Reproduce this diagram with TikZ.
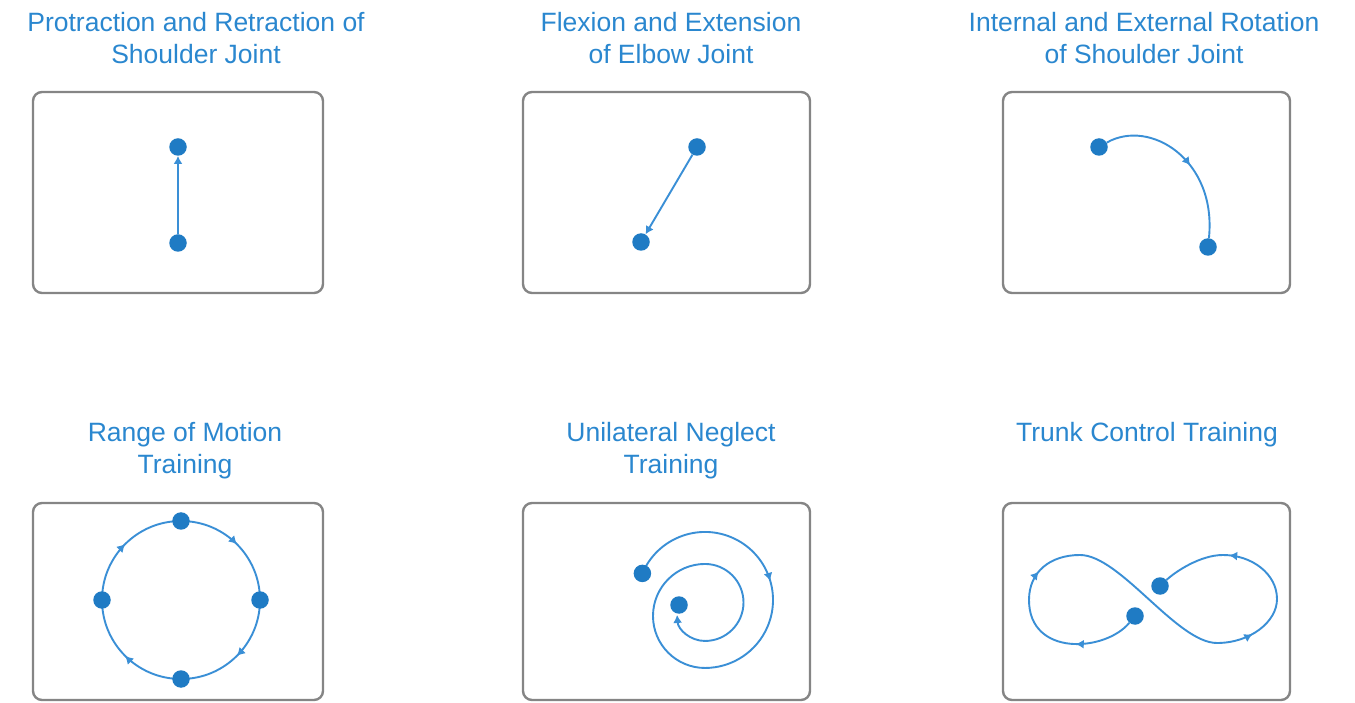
\documentclass[tikz,border=0pt]{standalone}
\usepackage{fontspec}
\setmainfont{Liberation Sans}
\usetikzlibrary{arrows.meta,decorations.markings}
\definecolor{dotblue}{HTML}{1F7BC4}
\definecolor{lineblue}{HTML}{3A8FD6}
\definecolor{titleblue}{HTML}{2A87CF}
\definecolor{boxgray}{HTML}{858585}
\pgfdeclarelayer{bg}
\pgfsetlayers{bg,main}
\tikzset{
  panel/.style={draw=boxgray, line width=2.4pt, rounded corners=9pt, fill=white},
  jdot/.style={circle, fill=dotblue, inner sep=0pt, minimum size=17.5pt},
  pathline/.style={draw=lineblue, color=lineblue, line width=1.9pt},
  endtip/.style={-{Latex[length=8pt,width=9pt]}},
  midmark/.style={postaction={decorate}, decoration={markings, mark=at position #1 with {\arrow[color=lineblue]{Latex[length=8pt,width=9pt]}}}},
  title/.style={text=titleblue, font=\fontsize{26.5}{32}\selectfont, align=center, anchor=base, inner sep=0pt},
}
\begin{document}
\begin{tikzpicture}[x=1pt,y=1pt]
\useasboundingbox (0,0) rectangle (1355,702);

% titles (anchor at baseline of the last line)
\node[title] (t1) at (196,638.7) {Protraction and Retraction of\\Shoulder Joint};
\node[title] (t2) at (671,638.7) {Flexion and Extension\\of Elbow Joint};
\node[title] (t3) at (1144,638.7) {Internal and External Rotation\\of Shoulder Joint};
\node[title] (t4) at (185,228.3) {Range of Motion\\Training};
\node[title] (t5) at (671,228.3) {Unilateral Neglect\\Training};
\node[title] (t6) at (1147,260.3) {Trunk Control Training};

% dots
\node[jdot] (a1) at (178,555) {};
\node[jdot] (b1) at (178,459) {};
\node[jdot] (a2) at (697,555) {};
\node[jdot] (b2) at (641,460) {};
\node[jdot] (a3) at (1099,555) {};
\node[jdot] (b3) at (1208,455) {};
\node[jdot] (n4) at (181,181) {};
\node[jdot] (e4) at (260,102) {};
\node[jdot] (s4) at (181,23) {};
\node[jdot] (w4) at (102,102) {};
\node[jdot] (s5) at (642.4,128.6) {};
\node[jdot] (e5) at (679,97) {};
\node[jdot] (a6) at (1160,116) {};
\node[jdot] (b6) at (1135,86) {};
\coordinate (l6) at (1029,102);
\coordinate (lt6) at (1080,147);
\coordinate (rb6) at (1217,59);
\coordinate (r6) at (1277,103);
\coordinate (rt6) at (1223,147);

\begin{pgfonlayer}{bg}
  % panels
  \draw[panel] (33,409) rectangle (323,610);
  \draw[panel] (523,409) rectangle (810,610);
  \draw[panel] (1003,409) rectangle (1290,610);
  \draw[panel] (33,2) rectangle (323,199);
  \draw[panel] (523,2) rectangle (810,199);
  \draw[panel] (1003,2) rectangle (1290,199);

  % panel 1
  \draw[pathline, endtip] (b1) -- (a1);
  % panel 2
  \draw[pathline, endtip] (a2) -- (b2);
  % panel 3
  \draw[pathline, midmark=0.55] (a3) .. controls (1150,584) and (1217,542) .. (b3);
  % panel 4
  \draw[pathline, midmark=0.5] (n4.center) arc[start angle=90, end angle=0, radius=79];
  \draw[pathline, midmark=0.5] (e4.center) arc[start angle=0, end angle=-90, radius=79];
  \draw[pathline, midmark=0.5] (s4.center) arc[start angle=-90, end angle=-180, radius=79];
  \draw[pathline, midmark=0.5] (w4.center) arc[start angle=180, end angle=90, radius=79];
  % panel 5
  \draw[pathline, endtip, midmark=167pt] (s5.center)
     arc[start angle=157, end angle=-90, radius=68]
     arc[start angle=-90, end angle=-270, radius=52]
     arc[start angle=90, end angle=-90, radius=38.5]
     arc[start angle=-90, end angle=-176, radius=28];
  % panel 6
  \draw[pathline, midmark=0.45] (b6) .. controls (1105,50) and (1029,45) .. (l6);
  \draw[pathline, midmark=0.4] (l6) .. controls (1029,130) and (1050,147) .. (lt6);
  \draw[pathline] (lt6) .. controls (1120,147) and (1177,59) .. (rb6);
  \draw[pathline, midmark=0.45] (rb6) .. controls (1250,59) and (1277,80) .. (r6);
  \draw[pathline, midmark=0.92] (r6) .. controls (1277,128) and (1252,147) .. (rt6);
  \draw[pathline] (rt6) .. controls (1200,147) and (1175,130) .. (a6);
\end{pgfonlayer}
\end{tikzpicture}
\end{document}
